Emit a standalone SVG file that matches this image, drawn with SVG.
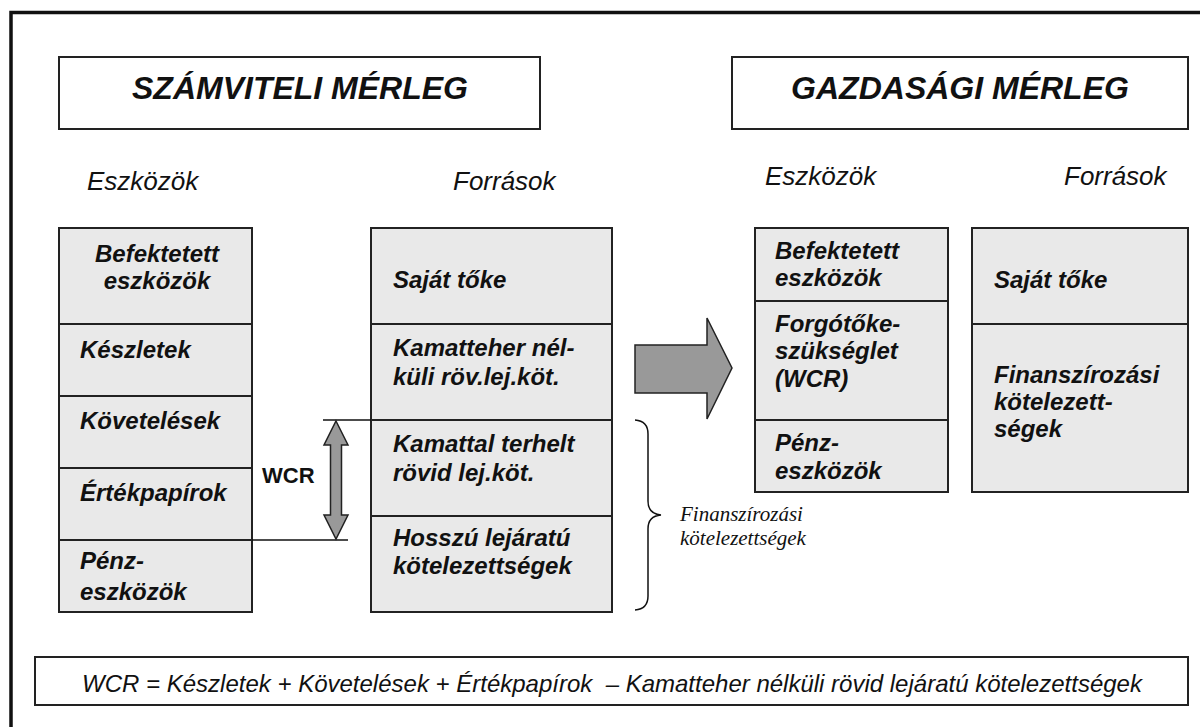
<svg xmlns="http://www.w3.org/2000/svg" width="1200" height="727" viewBox="0 0 1200 727">
<style>
.frame{fill:none;stroke:#111;stroke-width:3.5}
.title{fill:#fff;stroke:#222;stroke-width:2}
.cell{fill:#e9e9e9;stroke:#222;stroke-width:2}
.tt{font-family:"Liberation Sans",Arial,sans-serif;font-size:32px;font-weight:bold;font-style:italic;fill:#111;text-anchor:middle}
.lbl{font-family:"Liberation Sans",Arial,sans-serif;font-size:26px;font-style:italic;fill:#111}
.ct{font-family:"Liberation Sans",Arial,sans-serif;font-size:24px;font-weight:bold;font-style:italic;fill:#111}
.wcr{font-family:"Liberation Sans",Arial,sans-serif;font-size:22px;font-weight:bold;fill:#111}
.ser{font-family:"Liberation Serif","Times New Roman",serif;font-size:21px;font-style:italic;fill:#111}
.form{font-family:"Liberation Sans",Arial,sans-serif;font-size:24px;font-style:italic;fill:#111;text-anchor:middle}
.ln{stroke:#111;stroke-width:1.5;fill:none}
.arr{fill:#999;stroke:#222;stroke-width:1.5}
</style>
<rect x="0" y="0" width="1200" height="727" fill="#fff"/>
<rect class="frame" x="11" y="12.5" width="1200" height="730"/>

<g id="title-szamviteli">
<rect class="title" x="59" y="57" width="481" height="72"/>
<text class="tt" x="300" y="99">SZÁMVITELI MÉRLEG</text>
</g>
<g id="title-gazdasagi">
<rect class="title" x="732" y="57" width="456" height="72"/>
<text class="tt" x="960" y="99">GAZDASÁGI MÉRLEG</text>
</g>

<g id="labels">
<text class="lbl" x="87" y="190">Eszközök</text>
<text class="lbl" x="453" y="190">Források</text>
<text class="lbl" x="765" y="185">Eszközök</text>
<text class="lbl" x="1064" y="185">Források</text>
</g>

<g id="sz-eszkozok">
<rect class="cell" x="59" y="228" width="193" height="96"/>
<rect class="cell" x="59" y="324" width="193" height="72"/>
<rect class="cell" x="59" y="396" width="193" height="72"/>
<rect class="cell" x="59" y="468" width="193" height="72"/>
<rect class="cell" x="59" y="540" width="193" height="72"/>
<text class="ct" x="157" y="262" text-anchor="middle">Befektetett</text>
<text class="ct" x="157" y="289" text-anchor="middle">eszközök</text>
<text class="ct" x="80" y="358">Készletek</text>
<text class="ct" x="80" y="429">Követelések</text>
<text class="ct" x="80" y="501">Értékpapírok</text>
<text class="ct" x="80" y="569">Pénz-</text>
<text class="ct" x="80" y="600">eszközök</text>
</g>

<g id="sz-forrasok">
<rect class="cell" x="371" y="228" width="241" height="96"/>
<rect class="cell" x="371" y="324" width="241" height="96"/>
<rect class="cell" x="371" y="420" width="241" height="96"/>
<rect class="cell" x="371" y="516" width="241" height="96"/>
<text class="ct" x="393" y="288">Saját tőke</text>
<text class="ct" x="393" y="356">Kamatteher nél-</text>
<text class="ct" x="393" y="385">küli röv.lej.köt.</text>
<text class="ct" x="393" y="452">Kamattal terhelt</text>
<text class="ct" x="393" y="481">rövid lej.köt.</text>
<text class="ct" x="393" y="546">Hosszú lejáratú</text>
<text class="ct" x="393" y="574">kötelezettségek</text>
</g>

<g id="gz-eszkozok">
<rect class="cell" x="755" y="228" width="193" height="73"/>
<rect class="cell" x="755" y="301" width="193" height="119"/>
<rect class="cell" x="755" y="420" width="193" height="72"/>
<text class="ct" x="775" y="259">Befektetett</text>
<text class="ct" x="775" y="286">eszközök</text>
<text class="ct" x="775" y="332">Forgótőke-</text>
<text class="ct" x="775" y="359">szükséglet</text>
<text class="ct" x="775" y="387">(WCR)</text>
<text class="ct" x="775" y="451">Pénz-</text>
<text class="ct" x="775" y="479">eszközök</text>
</g>

<g id="gz-forrasok">
<rect class="cell" x="972" y="228" width="216" height="96"/>
<rect class="cell" x="972" y="324" width="216" height="168"/>
<text class="ct" x="994" y="288">Saját tőke</text>
<text class="ct" x="994" y="383">Finanszírozási</text>
<text class="ct" x="994" y="410">kötelezett-</text>
<text class="ct" x="994" y="437">ségek</text>
</g>

<g id="connectors">
<line class="ln" x1="323" y1="420" x2="371" y2="420"/>
<line class="ln" x1="252" y1="540" x2="348" y2="540"/>
<path class="arr" d="M336 421 L348 445 L341.5 445 L341.5 515 L348 515 L336 539 L324 515 L330.5 515 L330.5 445 L324 445 Z"/>
<path class="arr" d="M635 345 L707 345 L707 318 L732 368 L707 419 L707 393 L635 393 Z"/>
<path class="ln" d="M635 420 Q648 421 648 434 L648 501 Q648 514 661 515 Q648 516 648 529 L648 596 Q648 609 635 610"/>
</g>

<g id="wcr-label">
<text class="wcr" x="262" y="483">WCR</text>
</g>
<g id="brace-label">
<text class="ser" x="680" y="521">Finanszírozási</text>
<text class="ser" x="680" y="545">kötelezettségek</text>
</g>

<g id="formula">
<rect class="title" x="35" y="657" width="1153" height="48"/>
<text class="form" x="612" y="692" xml:space="preserve">WCR = Készletek + Követelések + Értékpapírok  – Kamatteher nélküli rövid lejáratú kötelezettségek</text>
</g>
</svg>
